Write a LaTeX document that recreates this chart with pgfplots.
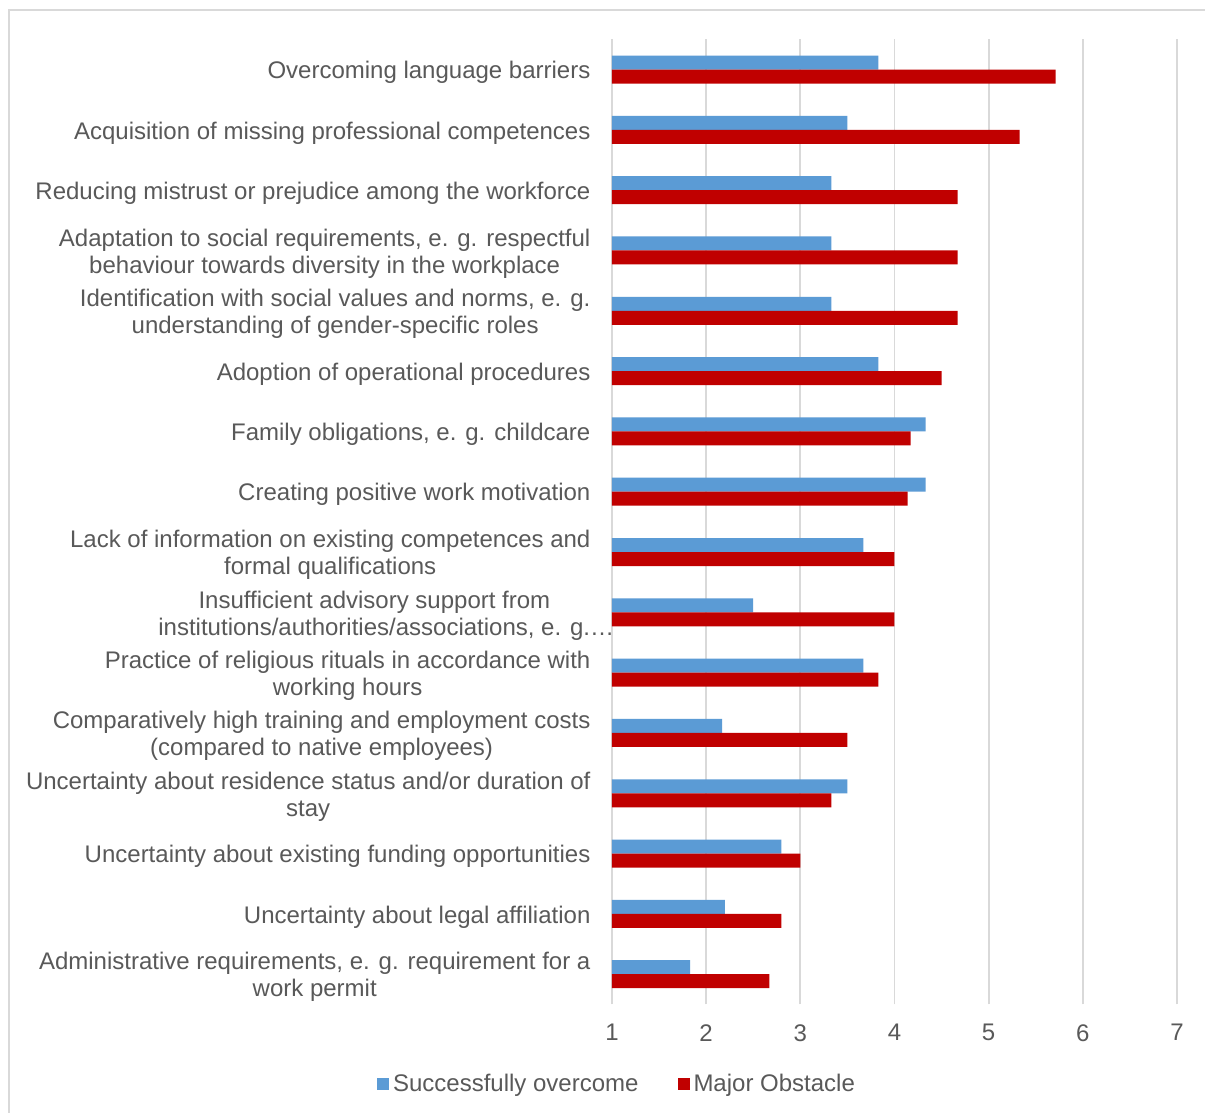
\documentclass[border=0pt]{standalone}
\usepackage{pgfplots}
\pgfplotsset{compat=1.18}
\usepackage{fontspec}
\setmainfont{Liberation Sans}
\definecolor{cblue}{HTML}{5B9BD5}
\definecolor{cred}{HTML}{C00000}
\definecolor{cgrid}{HTML}{D9D9D9}
\definecolor{ctext}{HTML}{595959}
\begin{document}
\begin{tikzpicture}
\useasboundingbox (0,0) rectangle (602.5pt,556.5pt);
\fill[white] (0,0) rectangle (602.5pt,556.5pt);
\draw[cgrid, line width=0.9pt] (4.6pt,0pt) -- (4.6pt,551.3pt) -- (602.5pt,551.3pt);
\begin{axis}[
  at={(306pt,54.3pt)}, anchor=south west,
  scale only axis, width=282.5pt, height=482.5pt,
  xbar, bar width=7pt,
  xmin=1, xmax=7, ymin=-0.5, ymax=15.5,
  xtick={1,...,7}, ytick={0,...,15},
  axis line style={draw=none}, tick style={draw=none},
  xmajorgrids=true, ymajorgrids=false,
  major grid style={draw=cgrid, line width=0.9pt},
  /pgf/number format/assume math mode=true,
  xticklabel style={font=\fontsize{12}{14}\selectfont, text=ctext, yshift=-6.5pt},
  yticklabel style={font=\fontsize{12}{13.5}\selectfont, text=ctext, align=center, xshift=-3pt, yshift=-1.5pt},
  yticklabels={
    {Administrative requirements, e. g. requirement for a\\work permit},
    {Uncertainty about legal affiliation},
    {Uncertainty about existing funding opportunities},
    {Uncertainty about residence status and/or duration of\\stay},
    {Comparatively high training and employment costs\\(compared to native employees)},
    {Practice of religious rituals in accordance with\\working hours},
    {Insufficient advisory support from\\\makebox[216pt][l]{institutions/authorities/associations, e. g.…}},
    {Lack of information on existing competences and\\formal qualifications},
    {Creating positive work motivation},
    {Family obligations, e. g. childcare},
    {Adoption of operational procedures},
    {Identification with social values and norms, e. g.\\understanding of gender-specific roles},
    {Adaptation to social requirements, e. g. respectful\\behaviour towards diversity in the workplace},
    {Reducing mistrust or prejudice among the workforce},
    {Acquisition of missing professional competences},
    {Overcoming language barriers}},
  legend columns=2,
  legend style={draw=none, fill=none, font=\fontsize{12}{14}\selectfont, text=ctext,
    at={(0.0106,-0.0825)}, anchor=center, column sep=0pt,
    /tikz/every even column/.append style={column sep=17.5pt}},
  legend image code/.code={\fill[#1] (0pt,-3pt) rectangle (6pt,3pt);},
]
\addplot[fill=cblue, draw=none, bar shift=3.5pt] coordinates {
  (1.83,0) (2.2,1) (2.8,2) (3.5,3) (2.17,4) (3.67,5) (2.5,6) (3.67,7)
  (4.33,8) (4.33,9) (3.83,10) (3.33,11) (3.33,12) (3.33,13) (3.5,14) (3.83,15)};
\addlegendentry{Successfully overcome}
\addplot[fill=cred, draw=none, bar shift=-3.5pt] coordinates {
  (2.67,0) (2.8,1) (3.0,2) (3.33,3) (3.5,4) (3.83,5) (4.0,6) (4.0,7)
  (4.14,8) (4.17,9) (4.5,10) (4.67,11) (4.67,12) (4.67,13) (5.33,14) (5.71,15)};
\addlegendentry{Major Obstacle}
\end{axis}
\end{tikzpicture}
\end{document}
